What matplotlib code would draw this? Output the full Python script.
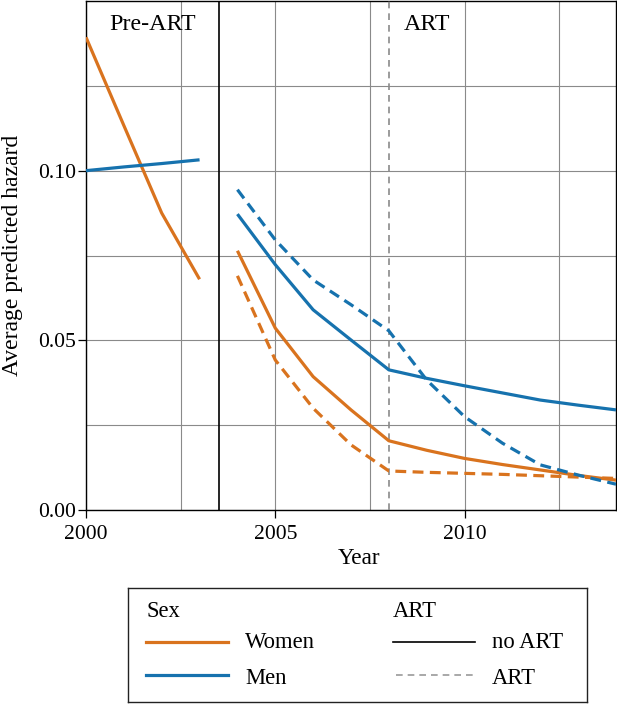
import matplotlib
matplotlib.use("Agg")
import matplotlib.pyplot as plt
from matplotlib.ticker import FixedLocator, FormatStrFormatter
from matplotlib.lines import Line2D

plt.rcParams['font.family'] = ['Liberation Serif', 'DejaVu Serif']

# ---------------- data ----------------
pre_years = [2000, 2001, 2002, 2003]
women_pre = [0.1393, 0.1133, 0.0875, 0.0680]
men_pre = [0.1000, 0.1011, 0.1021, 0.1032]

post_years = [2004, 2005, 2006, 2007, 2008, 2009, 2010, 2011, 2012, 2013, 2014]
women_noart = [0.0764, 0.0536, 0.0393, 0.0295, 0.0204, 0.0176, 0.0152, 0.0134, 0.0118, 0.0102, 0.0088]
women_art = [0.0690, 0.0442, 0.0300, 0.0192, 0.0115, 0.0111, 0.0108, 0.0105, 0.0101, 0.0097, 0.0093]
men_noart = [0.0872, 0.0723, 0.0590, 0.0501, 0.0413, 0.0388, 0.0366, 0.0345, 0.0324, 0.0309, 0.0295]
men_art = [0.0944, 0.0796, 0.0678, 0.0605, 0.0528, 0.0383, 0.0275, 0.0197, 0.0133, 0.0103, 0.0076]

art_era_start = 2003.5
art_switch = 2008
x_ticks = [2000, 2005, 2010]
y_ticks = [0.00, 0.05, 0.10]
x_minor = [2002.5, 2007.5, 2012.5]
y_minor = [0.025, 0.075, 0.125]
sex_labels = ["Women", "Men"]
art_labels = ["no ART", "ART"]

ORANGE = "#D9731E"
BLUE = "#1672AE"
GRID = "#8a8a8a"

W, H = 617, 704
fig = plt.figure(figsize=(W / 100, H / 100), dpi=100)
ax = fig.add_axes([86 / W, 1 - 510 / H, 530 / W, 509 / H])

lw = 2.3
dash = (3.4, 2.0)
ax.plot(pre_years, women_pre, color=ORANGE, lw=lw, solid_capstyle='butt', zorder=4)
ax.plot(pre_years, men_pre, color=BLUE, lw=lw, solid_capstyle='butt', zorder=4)
ax.plot(post_years, women_noart, color=ORANGE, lw=lw, solid_capstyle='butt', zorder=4)
ax.plot(post_years, women_art, color=ORANGE, lw=lw, dashes=dash, zorder=4)
ax.plot(post_years, men_noart, color=BLUE, lw=lw, solid_capstyle='butt', zorder=4)
ax.plot(post_years, men_art, color=BLUE, lw=lw, dashes=dash, zorder=4)

ax.axvline(art_era_start, color='black', lw=1.2, zorder=3)
ax.axvline(art_switch, color='#8a8a8a', lw=1.2, dashes=(4, 3), zorder=3)

ax.set_xlim(2000, 2014)
ax.set_ylim(0, 0.15)
ax.xaxis.set_major_locator(FixedLocator(x_ticks))
ax.yaxis.set_major_locator(FixedLocator(y_ticks))
ax.xaxis.set_minor_locator(FixedLocator(x_minor))
ax.yaxis.set_minor_locator(FixedLocator(y_minor))
ax.yaxis.set_major_formatter(FormatStrFormatter('%.2f'))
ax.grid(True, which='both', color=GRID, lw=0.8, zorder=1)
ax.set_axisbelow(True)
ax.tick_params(which='major', direction='out', length=6, width=0.9, labelsize=15.6, color='black')
ax.tick_params(axis='x', pad=4.5)
ax.tick_params(axis='y', pad=1)
ax.tick_params(which='minor', length=0)
for sp in ax.spines.values():
    sp.set_linewidth(1.0)
    sp.set_color('black')

ax.set_xlabel("Year", fontsize=16.7)
ax.xaxis.label.set_va('baseline')
ax.xaxis.set_label_coords(0.515, -54 / 509)
ax.set_ylabel("Average predicted hazard", fontsize=17)
ax.yaxis.set_label_coords(-63 / 530, 0.5)

ax.text(2001.75, (510 - 30) / 509 * 0.15, "Pre-ART", ha='center', va='baseline', fontsize=17.3)
ax.text(2009.0, (510 - 30) / 509 * 0.15, "ART", ha='center', va='baseline', fontsize=17.3)

# ---------------- legend (manual, pixel-based box) ----------------
bx0, by0, bx1, by1 = 128, 588, 587, 702
lax = fig.add_axes([bx0 / W, 1 - by1 / H, (bx1 - bx0) / W, (by1 - by0) / H])
lax.set_xlim(bx0, bx1)
lax.set_ylim(by1, by0)
lax.set_xticks([])
lax.set_yticks([])
for sp in lax.spines.values():
    sp.set_linewidth(1.0)
    sp.set_color('#222222')

fs_leg = 16.3
lax.text(146, 617, "Sex", fontsize=fs_leg, va='baseline', ha='left')
lax.text(393, 617, "ART", fontsize=fs_leg, va='baseline', ha='left')
row_y = [641.5, 675]
row_base = [648, 684]
for c, lab, yy, yb in zip([ORANGE, BLUE], sex_labels, row_y, row_base):
    lax.add_line(Line2D([146, 228], [yy, yy], color=c, lw=lw))
    lax.text(245, yb, lab, fontsize=fs_leg, va='baseline', ha='left')
lax.add_line(Line2D([393, 475], [row_y[0], row_y[0]], color='black', lw=1.2))
lax.add_line(Line2D([396, 475], [row_y[1], row_y[1]], color='#9a9a9a', lw=1.2, dashes=(4, 3)))
for lab, yb in zip(art_labels, row_base):
    lax.text(492, yb, lab, fontsize=fs_leg, va='baseline', ha='left')

fig.savefig("out.png", dpi=100)
